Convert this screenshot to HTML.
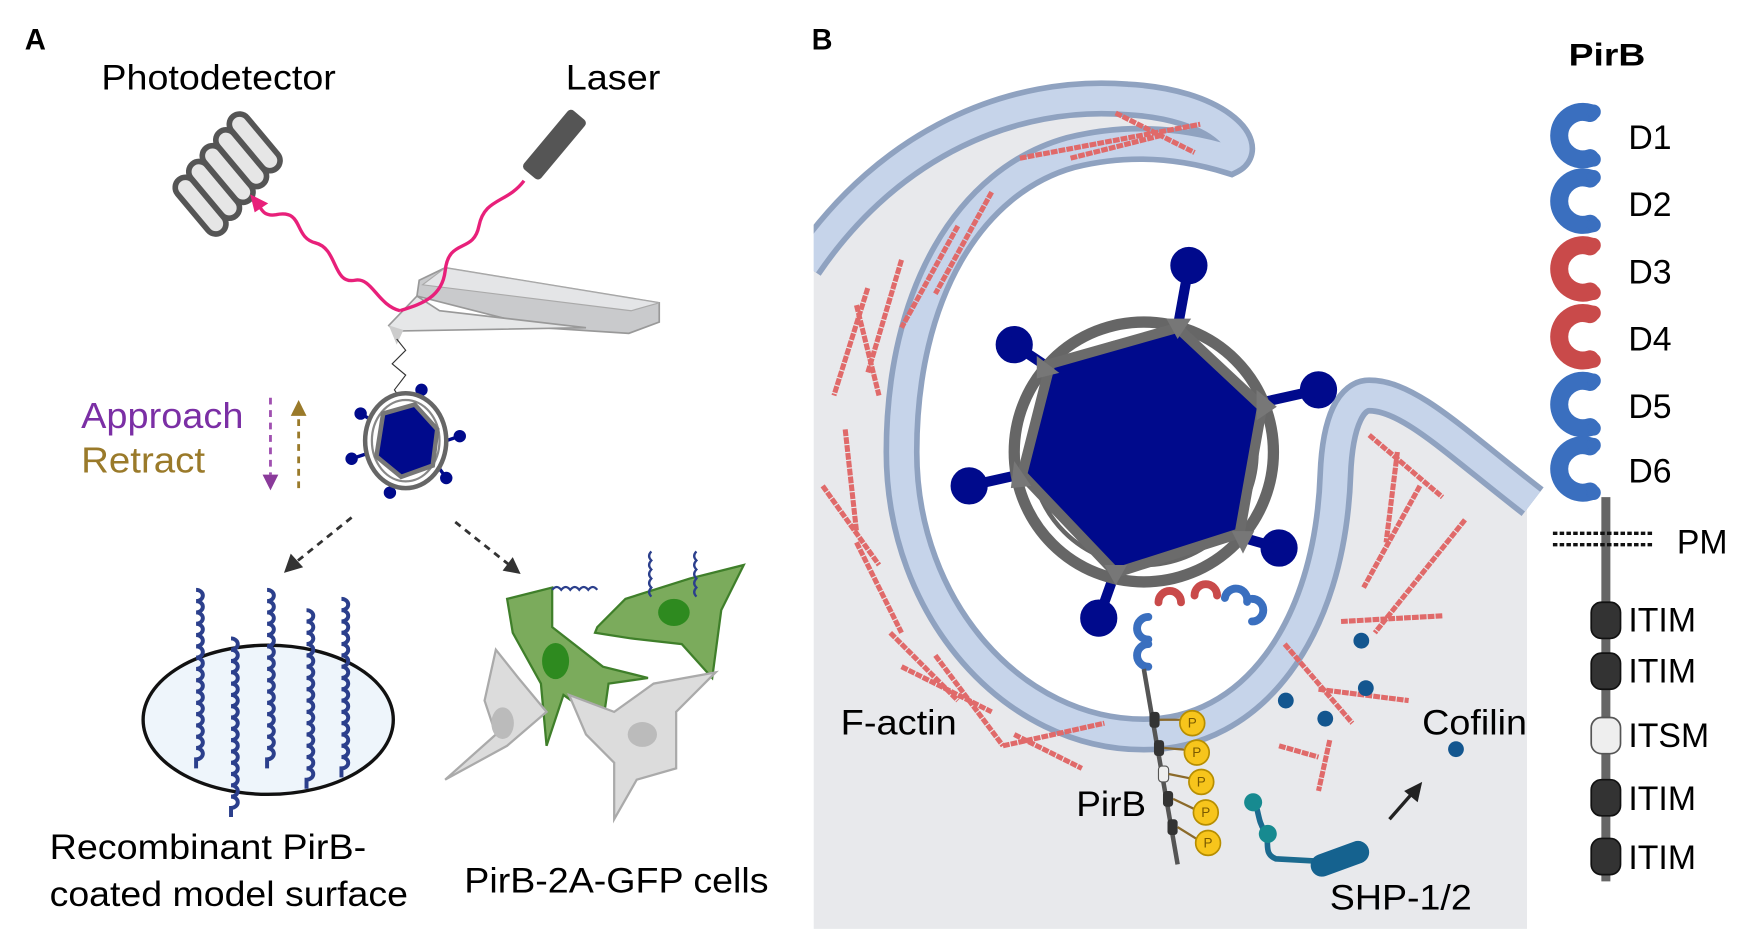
<!DOCTYPE html>
<html><head><meta charset="utf-8"><style>
html,body{margin:0;padding:0;background:#fff;}
svg{display:block;}
text{font-family:"Liberation Sans",sans-serif;}
</style></head><body>
<svg width="1758" height="939" viewBox="0 0 1560 831" preserveAspectRatio="none" xmlns="http://www.w3.org/2000/svg">
<defs>
<g id="c"><path d="M14,-20 A21 21 0 1 0 14,20" fill="none" stroke-width="16" stroke-linecap="round"/><circle cx="17" cy="-21" r="6"/><circle cx="17" cy="21" r="6"/></g>
<g id="cs"><path d="M7,-10 A10 10 0 1 0 7,10" fill="none" stroke-width="7" stroke-linecap="round"/></g>
<path id="coil" d="M0,0 a6 5 0 1 1 0 10 a6 5 0 1 1 0 10 a6 5 0 1 1 0 10 a6 5 0 1 1 0 10 a6 5 0 1 1 0 10 a6 5 0 1 1 0 10 a6 5 0 1 1 0 10 a6 5 0 1 1 0 10 a6 5 0 1 1 0 10 a6 5 0 1 1 0 10 a6 5 0 1 1 0 10 a6 5 0 1 1 0 10 a6 5 0 1 1 0 10 a6 5 0 1 1 0 10 a6 5 0 1 1 0 10 l0 8" fill="none" stroke="#2b3f8c" stroke-width="3.5"/>
</defs>

<text x="22" y="44" font-size="26" font-weight="bold">A</text>
<text x="720" y="44" font-size="26" font-weight="bold">B</text>
<text x="90" y="79" font-size="31" textLength="208" lengthAdjust="spacingAndGlyphs">Photodetector</text>
<text x="502" y="79" font-size="31" textLength="84" lengthAdjust="spacingAndGlyphs">Laser</text>

<g fill="#e6e6e6" stroke="#555" stroke-width="5">
<rect x="-30" y="-9" width="60" height="18" rx="9" transform="translate(178,182) rotate(50)"/>
<rect x="-30" y="-9" width="60" height="18" rx="9" transform="translate(190,168) rotate(50)"/>
<rect x="-30" y="-9" width="60" height="18" rx="9" transform="translate(202,154) rotate(50)"/>
<rect x="-30" y="-9" width="60" height="18" rx="9" transform="translate(214,140) rotate(50)"/>
<rect x="-30" y="-9" width="60" height="18" rx="9" transform="translate(226,126) rotate(50)"/>
</g>
<rect x="-34" y="-10" width="68" height="20" rx="4" fill="#555" transform="translate(492,128) rotate(-50)"/>
<path d="M372,248 L395,237 L585,268 L585,285 L558,295 L480,290 L370,262 Z" fill="#c9cacc" stroke="#999" stroke-width="1.5"/>
<path d="M395,237 L585,268 L560,275 L375,252Z" fill="#e4e5e7" stroke="#aaa" stroke-width="1"/>
<path d="M345,288 L370,262 L390,275 L520,290 L350,293Z" fill="#e6e7e8" stroke="#999" stroke-width="1.5"/>
<path d="M345,288 L352,305 L358,292Z" fill="#ccc"/>
<path d="M465,160 C450,180 430,175 425,200 C420,225 398,210 395,240 C392,265 370,270 355,275" fill="none" stroke="#e8207a" stroke-width="3"/>
<path d="M355,275 C335,270 330,245 315,248 C295,252 300,220 280,215 C260,210 270,185 245,190 C232,192 232,183 228,180" fill="none" stroke="#e8207a" stroke-width="3"/>
<path d="M222,172 L238,180 L226,188Z" fill="#e8207a"/>
<path d="M352,300 L360,310 L348,322 L360,332 L350,345 L358,357" fill="none" stroke="#333" stroke-width="1"/>
<g transform="translate(360,390)">
<g stroke="#000a8c" stroke-width="3" fill="#000a8c">
<line x1="10" y1="-33" x2="14" y2="-45"/><circle cx="14" cy="-45" r="4"/>
<line x1="-30" y1="-18" x2="-40" y2="-24"/><circle cx="-40" cy="-24" r="4"/>
<line x1="36" y1="0" x2="48" y2="-4"/><circle cx="48" cy="-4" r="4"/>
<line x1="-36" y1="12" x2="-48" y2="16"/><circle cx="-48" cy="16" r="4"/>
<line x1="28" y1="22" x2="36" y2="33"/><circle cx="36" cy="33" r="4"/>
<line x1="-12" y1="33" x2="-14" y2="46"/><circle cx="-14" cy="46" r="4"/>
</g>
<ellipse rx="36" ry="42" fill="#fff" stroke="#666" stroke-width="4"/>
<ellipse rx="30" ry="36" fill="none" stroke="#888" stroke-width="2"/>
<polygon points="8,-32 28,-10 24,22 -4,32 -26,14 -20,-24" fill="#000a8c" stroke="#777" stroke-width="4"/>
</g>
<text x="72" y="379" font-size="32" fill="#7b2fa5" textLength="144" lengthAdjust="spacingAndGlyphs">Approach</text>
<text x="72" y="418" font-size="32" fill="#9a7a2a" textLength="110" lengthAdjust="spacingAndGlyphs">Retract</text>
<line x1="240" y1="352" x2="240" y2="420" stroke="#a050b0" stroke-width="2.5" stroke-dasharray="6,5"/>
<path d="M233,420 L247,420 L240,434Z" fill="#8a3a9a"/>
<line x1="265" y1="432" x2="265" y2="368" stroke="#9a7a2a" stroke-width="2.5" stroke-dasharray="6,5"/>
<path d="M258,368 L272,368 L265,354Z" fill="#9a7a2a"/>
<line x1="312" y1="458" x2="262" y2="498" stroke="#333" stroke-width="2.5" stroke-dasharray="6,5"/>
<path d="M252,507 L258,490 L269,502Z" fill="#333"/>
<line x1="404" y1="462" x2="452" y2="500" stroke="#333" stroke-width="2.5" stroke-dasharray="6,5"/>
<path d="M462,508 L446,505 L455,493Z" fill="#333"/>
<ellipse cx="238" cy="637" rx="111" ry="66" fill="#eef5fb" stroke="#111" stroke-width="3"/>
<use href="#coil" x="174" y="522"/>
<use href="#coil" x="205" y="565"/>
<use href="#coil" x="237" y="522"/>
<use href="#coil" x="272" y="540"/>
<use href="#coil" x="303" y="530"/>
<path d="M450,530 L490,520 L490,555 L535,590 L575,600 L540,605 L535,640 L500,615 L485,660 L480,605 L455,560Z" fill="#7bab5c" stroke="#3f7f2a" stroke-width="2"/>
<ellipse cx="493" cy="585" rx="12" ry="16" fill="#2e8a1f"/>
<path d="M530,555 L555,530 L612,512 L660,500 L640,540 L632,600 L605,570 L560,565 L528,560Z" fill="#7bab5c" stroke="#3f7f2a" stroke-width="2"/>
<ellipse cx="598" cy="542" rx="14" ry="12" fill="#2e8a1f"/>
<path d="M440,575 L430,620 L440,650 L395,690 L450,660 L485,630 L460,600Z" fill="#dcdcdc" stroke="#aaa" stroke-width="2"/>
<ellipse cx="446" cy="640" rx="10" ry="14" fill="#bbb"/>
<path d="M505,615 L545,630 L580,605 L635,595 L600,630 L600,680 L565,690 L545,725 L545,675 L520,650Z" fill="#dcdcdc" stroke="#aaa" stroke-width="2"/>
<ellipse cx="570" cy="650" rx="13" ry="11" fill="#bbb"/>
<path d="M490,522 q4,-5 8,0 q4,-5 8,0 q4,-5 8,0 q4,-5 8,0 q4,-5 8,0" fill="none" stroke="#2b3f8c" stroke-width="2"/>
<path d="M578,488 q-4,4 0,8 q-4,4 0,8 q-4,4 0,8 q-4,4 0,8 q-4,4 0,8" fill="none" stroke="#2b3f8c" stroke-width="2"/>
<path d="M618,488 q-4,4 0,8 q-4,4 0,8 q-4,4 0,8 q-4,4 0,8 q-4,4 0,8" fill="none" stroke="#2b3f8c" stroke-width="2"/>
<text x="44" y="760" font-size="31" textLength="281" lengthAdjust="spacingAndGlyphs">Recombinant PirB-</text>
<text x="44" y="802" font-size="31" textLength="318" lengthAdjust="spacingAndGlyphs">coated model surface</text>
<text x="412" y="790" font-size="31" textLength="270" lengthAdjust="spacingAndGlyphs">PirB-2A-GFP cells</text>

<path d="M722,225 C790,125 900,80 1000,88 C1080,92 1112,130 1092,140 C1060,130 1010,120 950,135 C860,160 800,260 800,400 C800,540 900,650 1015,650 C1110,650 1180,560 1185,420 C1187,370 1200,350 1215,350 C1250,350 1290,390 1355,440 L1355,822 L722,822 Z" fill="#e8e9ec"/>
<path d="M715,235 C790,125 900,80 1000,88 C1080,92 1112,130 1092,140 C1060,130 1010,120 950,135 C860,160 800,260 800,400 C800,540 900,650 1015,650 C1110,650 1180,560 1185,420 C1187,370 1200,350 1215,350 C1250,350 1290,390 1360,444" fill="none" stroke="#8fa2c0" stroke-width="32"/>
<path d="M715,235 C790,125 900,80 1000,88 C1080,92 1112,130 1092,140 C1060,130 1010,120 950,135 C860,160 800,260 800,400 C800,540 900,650 1015,650 C1110,650 1180,560 1185,420 C1187,370 1200,350 1215,350 C1250,350 1290,390 1360,444" fill="none" stroke="#c6d4ea" stroke-width="22"/>
<rect x="700" y="0" width="22" height="831" fill="#fff"/>
<g stroke="#e06a6a" stroke-width="4.5" stroke-dasharray="6,1" fill="none">
<line x1="905" y1="140" x2="1065" y2="110"/><line x1="990" y1="100" x2="1060" y2="135"/><line x1="950" y1="140" x2="1030" y2="120"/>
<line x1="770" y1="255" x2="740" y2="350"/><line x1="760" y1="270" x2="780" y2="350"/><line x1="800" y1="230" x2="770" y2="330"/>
<line x1="850" y1="200" x2="800" y2="290"/><line x1="880" y1="170" x2="830" y2="260"/>
<line x1="750" y1="380" x2="760" y2="470"/><line x1="730" y1="430" x2="780" y2="500"/>
<line x1="760" y1="480" x2="800" y2="560"/><line x1="790" y1="560" x2="850" y2="620"/>
<line x1="800" y1="590" x2="880" y2="630"/><line x1="830" y1="580" x2="890" y2="660"/>
<line x1="890" y1="660" x2="980" y2="640"/><line x1="900" y1="650" x2="960" y2="680"/>
<line x1="1215" y1="385" x2="1280" y2="440"/><line x1="1240" y1="400" x2="1230" y2="480"/>
<line x1="1260" y1="430" x2="1210" y2="520"/><line x1="1300" y1="460" x2="1220" y2="560"/>
<line x1="1190" y1="550" x2="1280" y2="545"/><line x1="1170" y1="610" x2="1250" y2="620"/>
<line x1="1140" y1="570" x2="1200" y2="640"/><line x1="1135" y1="660" x2="1170" y2="670"/>
<line x1="1180" y1="655" x2="1170" y2="700"/>
</g>
<g fill="#13568f"><circle cx="1208" cy="567" r="7"/><circle cx="1212" cy="609" r="7"/><circle cx="1141" cy="620" r="7"/><circle cx="1176" cy="636" r="7"/><circle cx="1292" cy="663" r="7"/></g>
<g transform="translate(1015,400)">
<g stroke="#000a8c" stroke-width="9" fill="#000a8c">
<line x1="30" y1="-110" x2="40" y2="-165"/><circle cx="40" cy="-165" r="12"/>
<line x1="-85" y1="-75" x2="-115" y2="-95"/><circle cx="-115" cy="-95" r="12"/>
<line x1="110" y1="-45" x2="155" y2="-55"/><circle cx="155" cy="-55" r="12"/>
<line x1="-110" y1="20" x2="-155" y2="30"/><circle cx="-155" cy="30" r="12"/>
<line x1="85" y1="75" x2="120" y2="85"/><circle cx="120" cy="85" r="12"/>
<line x1="-25" y1="105" x2="-40" y2="147"/><circle cx="-40" cy="147" r="12"/>
</g>
<circle r="115" fill="#fff" stroke="#666" stroke-width="10"/>
<circle r="100" fill="none" stroke="#666" stroke-width="4"/>
<polygon points="30,-110 105,-40 85,72 -25,107 -108,20 -83,-78" fill="#000a8c" stroke="#6b6b6b" stroke-width="9"/>
<g fill="#777"><path d="M20,-118 L42,-118 L30,-100Z"/><path d="M-95,-85 L-75,-70 L-95,-65Z"/><path d="M100,-55 L118,-40 L100,-28Z"/><path d="M-115,8 L-100,30 L-118,32Z"/><path d="M78,70 L98,70 L88,90Z"/><path d="M-35,100 L-15,100 L-25,118Z"/></g>
</g>
<g fill="#3a6fbf" stroke="#3a6fbf"><use href="#cs" transform="translate(1012,556)"/><use href="#cs" transform="translate(1012,580)"/></g>
<g fill="#c94a4a" stroke="#c94a4a"><use href="#cs" transform="translate(1038,526) rotate(90)"/><use href="#cs" transform="translate(1070,520) rotate(90)"/></g>
<g fill="#3a6fbf" stroke="#3a6fbf"><use href="#cs" transform="translate(1098,524) rotate(100)"/><use href="#cs" transform="translate(1118,540) rotate(180)"/></g>
<line x1="1015" y1="592" x2="1045" y2="765" stroke="#555" stroke-width="4"/>
<g fill="#333"><rect x="1020" y="630" width="9" height="14" rx="3"/><rect x="1024" y="655" width="9" height="14" rx="3"/><rect x="1032" y="700" width="9" height="14" rx="3"/><rect x="1036" y="725" width="9" height="14" rx="3"/></g>
<rect x="1028" y="678" width="9" height="14" rx="3" fill="#eee" stroke="#555"/>
<g stroke="#8b6a2a" stroke-width="2"><line x1="1029" y1="637" x2="1055" y2="637"/><line x1="1033" y1="662" x2="1058" y2="664"/><line x1="1037" y1="685" x2="1062" y2="690"/><line x1="1041" y1="707" x2="1064" y2="718"/><line x1="1045" y1="732" x2="1066" y2="745"/></g>
<g fill="#f7c51c" stroke="#b78e00" stroke-width="1.5">
<circle cx="1058" cy="640" r="11"/><circle cx="1062" cy="666" r="11"/><circle cx="1066" cy="692" r="11"/><circle cx="1070" cy="719" r="11"/><circle cx="1072" cy="746" r="11"/>
</g>
<g font-size="12" fill="#7a5a00" text-anchor="middle"><text x="1058" y="644">P</text><text x="1062" y="670">P</text><text x="1066" y="696">P</text><text x="1070" y="723">P</text><text x="1072" y="750">P</text></g>
<path d="M1110,705 C1118,715 1115,725 1122,735 C1128,745 1120,755 1132,760 L1168,762" fill="none" stroke="#1b6a8f" stroke-width="5"/>
<circle cx="1112" cy="710" r="8" fill="#178a90"/><circle cx="1125" cy="738" r="8" fill="#178a90"/>
<rect x="1162" y="750" width="54" height="20" rx="10" fill="#15628f" transform="rotate(-20 1189 760)"/>
<line x1="1233" y1="725" x2="1255" y2="700" stroke="#222" stroke-width="3"/>
<path d="M1262,692 L1258,710 L1246,700Z" fill="#222"/>
<text x="746" y="650" font-size="31" textLength="103" lengthAdjust="spacingAndGlyphs">F-actin</text>
<text x="1262" y="650" font-size="31" textLength="93" lengthAdjust="spacingAndGlyphs">Cofilin</text>
<text x="955" y="722" font-size="31" textLength="62" lengthAdjust="spacingAndGlyphs">PirB</text>
<text x="1180" y="805" font-size="31" textLength="126" lengthAdjust="spacingAndGlyphs">SHP-1/2</text>

<text x="1392" y="58" font-size="28" font-weight="bold" textLength="68" lengthAdjust="spacingAndGlyphs">PirB</text>
<line x1="1425" y1="440" x2="1425" y2="780" stroke="#666" stroke-width="8"/>
<g fill="#3a6fbf" stroke="#3a6fbf"><use href="#c" x="1397" y="120"/><use href="#c" x="1397" y="178"/><use href="#c" x="1397" y="358"/><use href="#c" x="1397" y="415"/></g>
<g fill="#c94a4a" stroke="#c94a4a"><use href="#c" x="1397" y="238"/><use href="#c" x="1397" y="298"/></g>
<g font-size="30"><text x="1445" y="132">D1</text><text x="1445" y="191">D2</text><text x="1445" y="251">D3</text><text x="1445" y="310">D4</text><text x="1445" y="370">D5</text><text x="1445" y="427">D6</text><text x="1488" y="490">PM</text>
<text x="1445" y="559">ITIM</text><text x="1445" y="604">ITIM</text><text x="1445" y="661">ITSM</text><text x="1445" y="717">ITIM</text><text x="1445" y="769">ITIM</text></g>
<g stroke="#111" stroke-width="3" stroke-dasharray="4,2"><line x1="1378" y1="472" x2="1468" y2="472"/><line x1="1378" y1="482" x2="1468" y2="482"/></g>
<g fill="#333" stroke="#111" stroke-width="1.5"><rect x="1412" y="533" width="26" height="32" rx="9"/><rect x="1412" y="578" width="26" height="32" rx="9"/><rect x="1412" y="690" width="26" height="32" rx="9"/><rect x="1412" y="742" width="26" height="32" rx="9"/></g>
<rect x="1412" y="635" width="26" height="32" rx="9" fill="#eee" stroke="#555" stroke-width="1.5"/>
</svg>
</body></html>
